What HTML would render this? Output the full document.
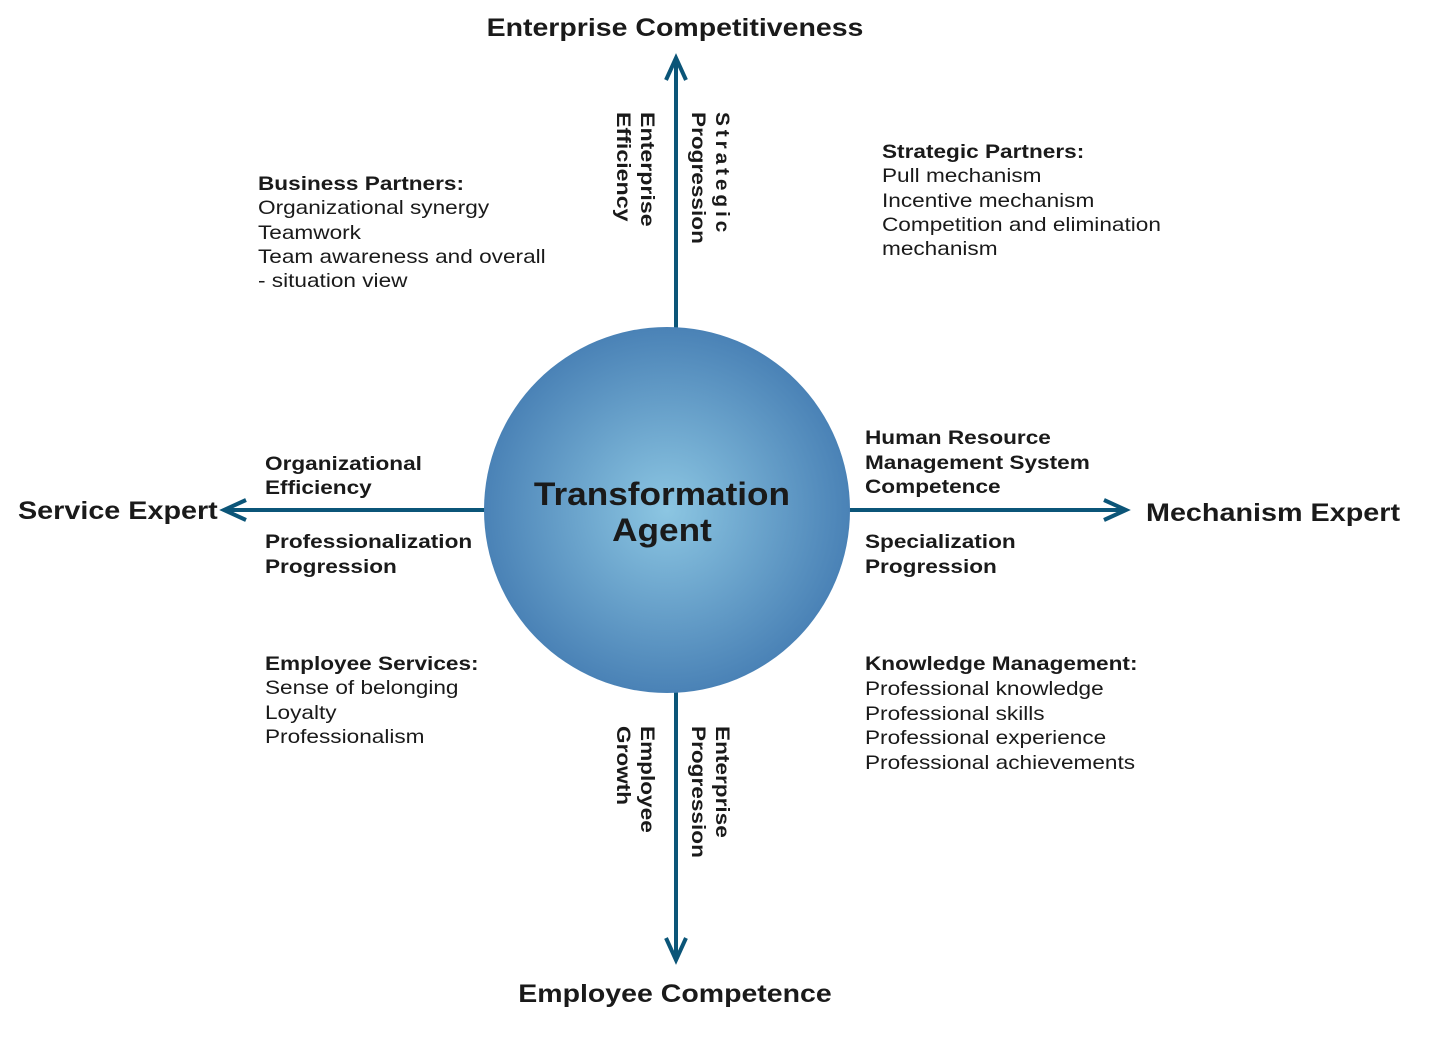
<!DOCTYPE html>
<html><head><meta charset="utf-8"><style>
body{margin:0;background:#fff;}
svg text{font-family:"Liberation Sans",sans-serif;fill:#1a1a1a;}
.b{font-weight:bold;}
</style></head><body>
<svg width="1436" height="1032" viewBox="0 0 1436 1032" xmlns="http://www.w3.org/2000/svg">
<defs>
<radialGradient id="g" cx="50%" cy="50%" r="50%">
<stop offset="0" stop-color="#8cc6e2"/>
<stop offset="1" stop-color="#4a82b6"/>
</radialGradient>
</defs>
<g stroke="#0b5578" stroke-width="4" fill="none">
<line x1="676" y1="60" x2="676" y2="328"/>
<polyline points="666,80 676,58 686,80"/>
<line x1="676" y1="690" x2="676" y2="960"/>
<polyline points="666,938 676,960 686,938"/>
<line x1="224" y1="510" x2="486" y2="510"/>
<polyline points="246,500 224,510 246,520"/>
<line x1="848" y1="510" x2="1126" y2="510"/>
<polyline points="1104,500 1126,510 1104,520"/>
</g>
<circle cx="667" cy="510" r="183" fill="url(#g)"/>
<g transform="translate(662,0) scale(1.1,1) translate(-662,0)">
<text x="662" y="505" text-anchor="middle" class="b" font-size="32">Transformation</text>
<text x="662" y="541" text-anchor="middle" class="b" font-size="32">Agent</text>
</g>
<g transform="translate(675,0) scale(1.14,1) translate(-675,0)">
<text x="675" y="36" text-anchor="middle" class="b" font-size="25">Enterprise Competitiveness</text>
<text x="675" y="1002" text-anchor="middle" class="b" font-size="25">Employee Competence</text>
</g>
<g transform="translate(18,0) scale(1.15,1) translate(-18,0)">
<text x="18" y="519" class="b" font-size="25">Service Expert</text>
</g>
<g transform="translate(1146,0) scale(1.15,1) translate(-1146,0)">
<text x="1146" y="521" class="b" font-size="25">Mechanism Expert</text>
</g>

<g font-size="19" class="b">
<text transform="translate(716,112) rotate(90) scale(1.1,1)" letter-spacing="3.5">Strategic</text>
<text transform="translate(692,112) rotate(90) scale(1.19,1)">Progression</text>
<text transform="translate(641,112) rotate(90) scale(1.22,1)">Enterprise</text>
<text transform="translate(617,112) rotate(90) scale(1.22,1)">Efficiency</text>
<text transform="translate(716,726) rotate(90) scale(1.19,1)">Enterprise</text>
<text transform="translate(692,726) rotate(90) scale(1.19,1)">Progression</text>
<text transform="translate(641,726) rotate(90) scale(1.19,1)">Employee</text>
<text transform="translate(617,726) rotate(90) scale(1.19,1)">Growth</text>
</g>

<g font-size="19">
<g transform="translate(258,0) scale(1.19,1) translate(-258,0)">
<text x="258" y="190" class="b">Business Partners:</text>
<text x="258" y="214">Organizational synergy</text>
<text x="258" y="239">Teamwork</text>
<text x="258" y="263">Team awareness and overall</text>
<text x="258" y="287">- situation view</text>
</g>
<g transform="translate(882,0) scale(1.19,1) translate(-882,0)">
<text x="882" y="158" class="b">Strategic Partners:</text>
<text x="882" y="182">Pull mechanism</text>
<text x="882" y="207">Incentive mechanism</text>
<text x="882" y="231">Competition and elimination</text>
<text x="882" y="255">mechanism</text>
</g>
<g transform="translate(265,0) scale(1.19,1) translate(-265,0)">
<text x="265" y="470" class="b">Organizational</text>
<text x="265" y="494" class="b">Efficiency</text>
<text x="265" y="548" class="b">Professionalization</text>
<text x="265" y="573" class="b">Progression</text>
<text x="265" y="670" class="b">Employee Services:</text>
<text x="265" y="694">Sense of belonging</text>
<text x="265" y="719">Loyalty</text>
<text x="265" y="743">Professionalism</text>
</g>
<g transform="translate(865,0) scale(1.19,1) translate(-865,0)">
<text x="865" y="444" class="b">Human Resource</text>
<text x="865" y="469" class="b">Management System</text>
<text x="865" y="493" class="b">Competence</text>
<text x="865" y="548" class="b">Specialization</text>
<text x="865" y="573" class="b">Progression</text>
<text x="865" y="670" class="b">Knowledge Management:</text>
<text x="865" y="695">Professional knowledge</text>
<text x="865" y="720">Professional skills</text>
<text x="865" y="744">Professional experience</text>
<text x="865" y="769">Professional achievements</text>
</g>
</g>
</svg>
</body></html>
